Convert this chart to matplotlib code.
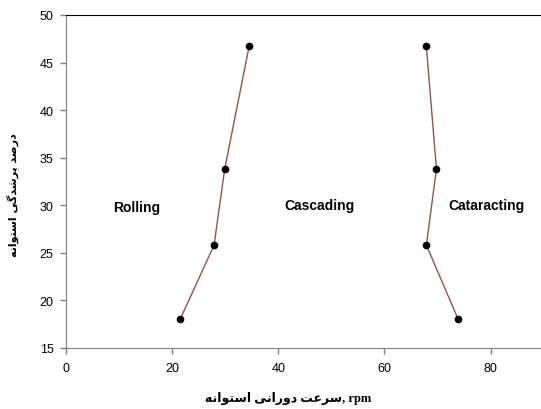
"""Grinding mill charge motion regimes: filling % vs. rotation speed."""

import matplotlib

matplotlib.use("Agg")
import matplotlib.pyplot as plt  # noqa: E402

# boundary Rolling / Cascading
speed_low = [21.5, 27.9, 29.9, 34.5]
fill_low = [18.0, 25.8, 33.8, 46.7]

# boundary Cascading / Cataracting
speed_high = [73.9, 67.9, 69.8, 67.9]
fill_high = [18.0, 25.8, 33.8, 46.7]

regimes = ["Rolling", "Cascading", "Cataracting"]
regime_x = [13.3, 47.8, 79.2]
regime_y = [29.8, 30.0, 30.0]

x_ticks = [0, 20, 40, 60, 80]
y_ticks = [15, 20, 25, 30, 35, 40, 45, 50]

# matplotlib does no Arabic shaping / bidi, so the Persian labels are written
# with presentation forms already in visual (left-to-right) order.
ostovaneh = "\ufeea\ufee7\ufe8d\ufeee\ufe98\ufeb3\ufe8d"      # استوانه
davarani = "\ufef0\ufee7\ufe8d\ufead\ufeed\ufea9"              # دورانی
sorat = "\ufe96\ufecb\ufeae\ufeb3"                             # سرعت
darsad = "\ufeaa\ufebb\ufead\ufea9"                            # درصد
porshodegi = "\ufef0\ufb94\ufeaa\ufeb7\ufeae\ufb58"            # پرشدگی

x_label = f"{ostovaneh} {davarani} {sorat}, rpm"
y_label = f"{ostovaneh} {porshodegi} {darsad}"

LINE = "#8a5656"

fig = plt.figure(figsize=(5.41, 4.10), dpi=100)
ax = fig.add_axes([0.122, 0.149, 0.878, 0.812])

for xs, ys in [(speed_low, fill_low), (speed_high, fill_high)]:
    ax.plot(xs, ys, color=LINE, lw=1.0, marker="o", markersize=4.5,
            markerfacecolor="black", markeredgecolor="black", zorder=3)

for name, x, y in zip(regimes, regime_x, regime_y):
    ax.text(x, y, name, ha="center", va="center", fontsize=10,
            fontweight="bold", family="Liberation Sans", color="black")

ax.set_xlim(0, 89.5)
ax.set_ylim(15, 50)
ax.set_xticks(x_ticks)
ax.set_yticks(y_ticks)
ax.tick_params(direction="out", length=4, width=1, color="#808080",
               labelsize=9, labelcolor="black")
ax.tick_params(axis="x", pad=6)
ax.tick_params(axis="y", pad=5)
for lbl in ax.get_xticklabels() + ax.get_yticklabels():
    lbl.set_family("Liberation Sans")

ax.spines["right"].set_visible(False)
ax.spines["top"].set_color("black")
ax.spines["left"].set_color("#808080")
ax.spines["bottom"].set_color("#808080")

fig.text(288 / 541, 1 - 399 / 410, x_label, ha="center", va="center",
         fontsize=9, fontweight="bold",
         family=["Liberation Serif", "DejaVu Sans"])
fig.text(13 / 541, 1 - 195 / 410, y_label, ha="center", va="center",
         rotation=90, fontsize=8, fontweight="bold", family="DejaVu Sans")

fig.savefig("out.png", dpi=100)
